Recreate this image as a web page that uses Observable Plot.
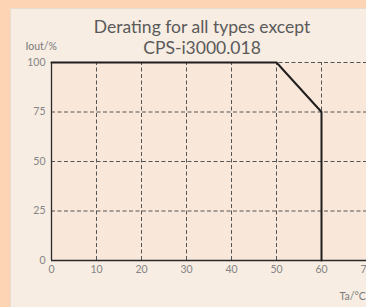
<!DOCTYPE html>
<html><head><meta charset="utf-8">
<script src="https://cdn.jsdelivr.net/npm/d3@7"></script>
<script src="https://cdn.jsdelivr.net/npm/@observablehq/plot@0.6"></script>
<style>
html,body{margin:0;padding:0;width:366px;height:307px;overflow:hidden;background:#fdd4b4}
#panel{position:absolute;left:10px;top:8px;width:362px;height:305px;background:#f7ede3;border:1px solid #eadccd;box-sizing:border-box}
#chart{position:absolute;left:0;top:0}
</style></head>
<body><div id="panel"></div><div id="chart"></div>
<script>
const titleLines = ["Derating for all types except", "CPS-i3000.018"];
const yLabel = "Iout/%";
const xLabel = "Ta/°C";
const xTicks = [0, 10, 20, 30, 40, 50, 60, 70];
const yTicks = [0, 25, 50, 75, 100];
const deratingTemp = [0, 50, 60, 60];
const deratingIout = [100, 100, 75, 0];

const curve = deratingTemp.map((t, i) => ({t, i: deratingIout[i]}));

const chart = Plot.plot({
  width: 366, height: 307,
  marginLeft: 51, marginRight: 0, marginTop: 62, marginBottom: 47,
  style: {background: "transparent", fontFamily: "Lato, sans-serif", fontSize: "10.5px", color: "#858585", overflow: "visible"},
  x: {domain: [0, 70], ticks: xTicks, tickSize: 0, tickPadding: 5, label: null},
  y: {domain: [0, 100], ticks: yTicks, tickSize: 0, tickPadding: 6, label: null},
  marks: [
    Plot.frame({fill: "#f9e7da", stroke: null}),
    Plot.ruleX(xTicks.filter(d => d > 0), {y1: 0, y2: 100, stroke: "#555", strokeWidth: 1, strokeDasharray: "4,2.5"}),
    Plot.ruleY(yTicks.filter(d => d > 0), {x1: 0, x2: 70, stroke: "#555", strokeWidth: 1, strokeDasharray: "4,2.5"}),
    Plot.ruleX([0], {y1: 0, y2: 100, stroke: "#2a2a2a", strokeWidth: 1.3}),
    Plot.ruleY([0], {x1: 0, x2: 70, stroke: "#2a2a2a", strokeWidth: 1.3}),
    Plot.line(curve, {x: "t", y: "i", stroke: "#1e1e1e", strokeWidth: 2}),
    Plot.text([titleLines[0]], {frameAnchor: "top", dx: -7, dy: -35, fontSize: 17.5, fill: "#5a5a5a", lineAnchor: "middle"}),
    Plot.text([titleLines[1]], {frameAnchor: "top", dx: -7, dy: -14, fontSize: 17.5, fill: "#5a5a5a", lineAnchor: "middle"}),
    Plot.text([yLabel], {frameAnchor: "top-left", dx: -26, dy: -16, textAnchor: "start", fontSize: 10.5, fill: "#7a7a7a", lineAnchor: "middle"}),
    Plot.text([xLabel], {frameAnchor: "bottom-right", dx: -27, dy: 36, textAnchor: "start", fontSize: 10.5, fill: "#7a7a7a", lineAnchor: "middle"})
  ]
});
document.getElementById("chart").appendChild(chart);
</script>
</body></html>
